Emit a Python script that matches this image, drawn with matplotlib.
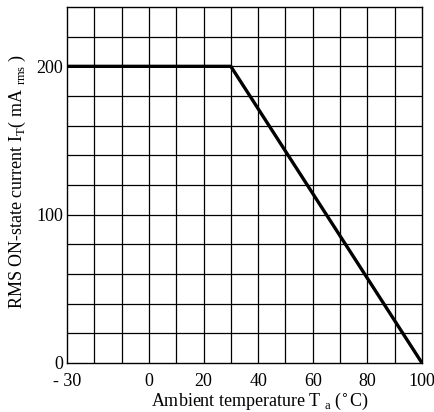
import matplotlib
matplotlib.use("Agg")
from matplotlib import pyplot as plt

# derating curve
temp = [-30, 30, 100]
current = [200, 200, 0]

xticks = [-30, 0, 20, 40, 60, 80, 100]
xticklabels = ["- 30", "0", "20", "40", "60", "80", "100"]
yticks = [0, 100, 200]

plt.rcParams['font.family'] = ['Liberation Serif', 'DejaVu Serif']

fig = plt.figure(figsize=(4.35, 4.12), dpi=100)
ax = fig.add_axes([0.154, 0.119, 0.816, 0.864])

# grid every 10 degC and 20 mA
for x in range(-20, 100, 10):
    ax.axvline(x, color='black', lw=0.9, zorder=1)
for y in range(20, 240, 20):
    ax.axhline(y, color='black', lw=0.9, zorder=1)

ax.plot(temp, current, color='black', lw=2.4, zorder=3, solid_capstyle='butt')

ax.set_xlim(-30, 100)
ax.set_ylim(0, 240)
ax.set_xticks(xticks)
ax.set_xticklabels(xticklabels)
ax.set_yticks(yticks)
ax.tick_params(length=0, labelsize=13)
ax.tick_params(axis='x', pad=7)
ax.tick_params(axis='y', pad=3)
for lbl in ax.get_yticklabels():
    lbl.set_verticalalignment('center_baseline')
for s in ax.spines.values():
    s.set_linewidth(1.0)

ax.set_xlabel(r"Ambient temperature T$_{\mathregular{\ a}}$ ($^{\circ}$C)", fontsize=13)
ax.set_ylabel(r"RMS ON-state current I$_{\mathregular{T}}$( mA $_{\mathregular{rms}}$ )", fontsize=13)
ax.xaxis.set_label_coords(0.544, -0.078)
ax.yaxis.set_label_coords(-0.11, 0.51)

plt.savefig("out.png", dpi=100)
